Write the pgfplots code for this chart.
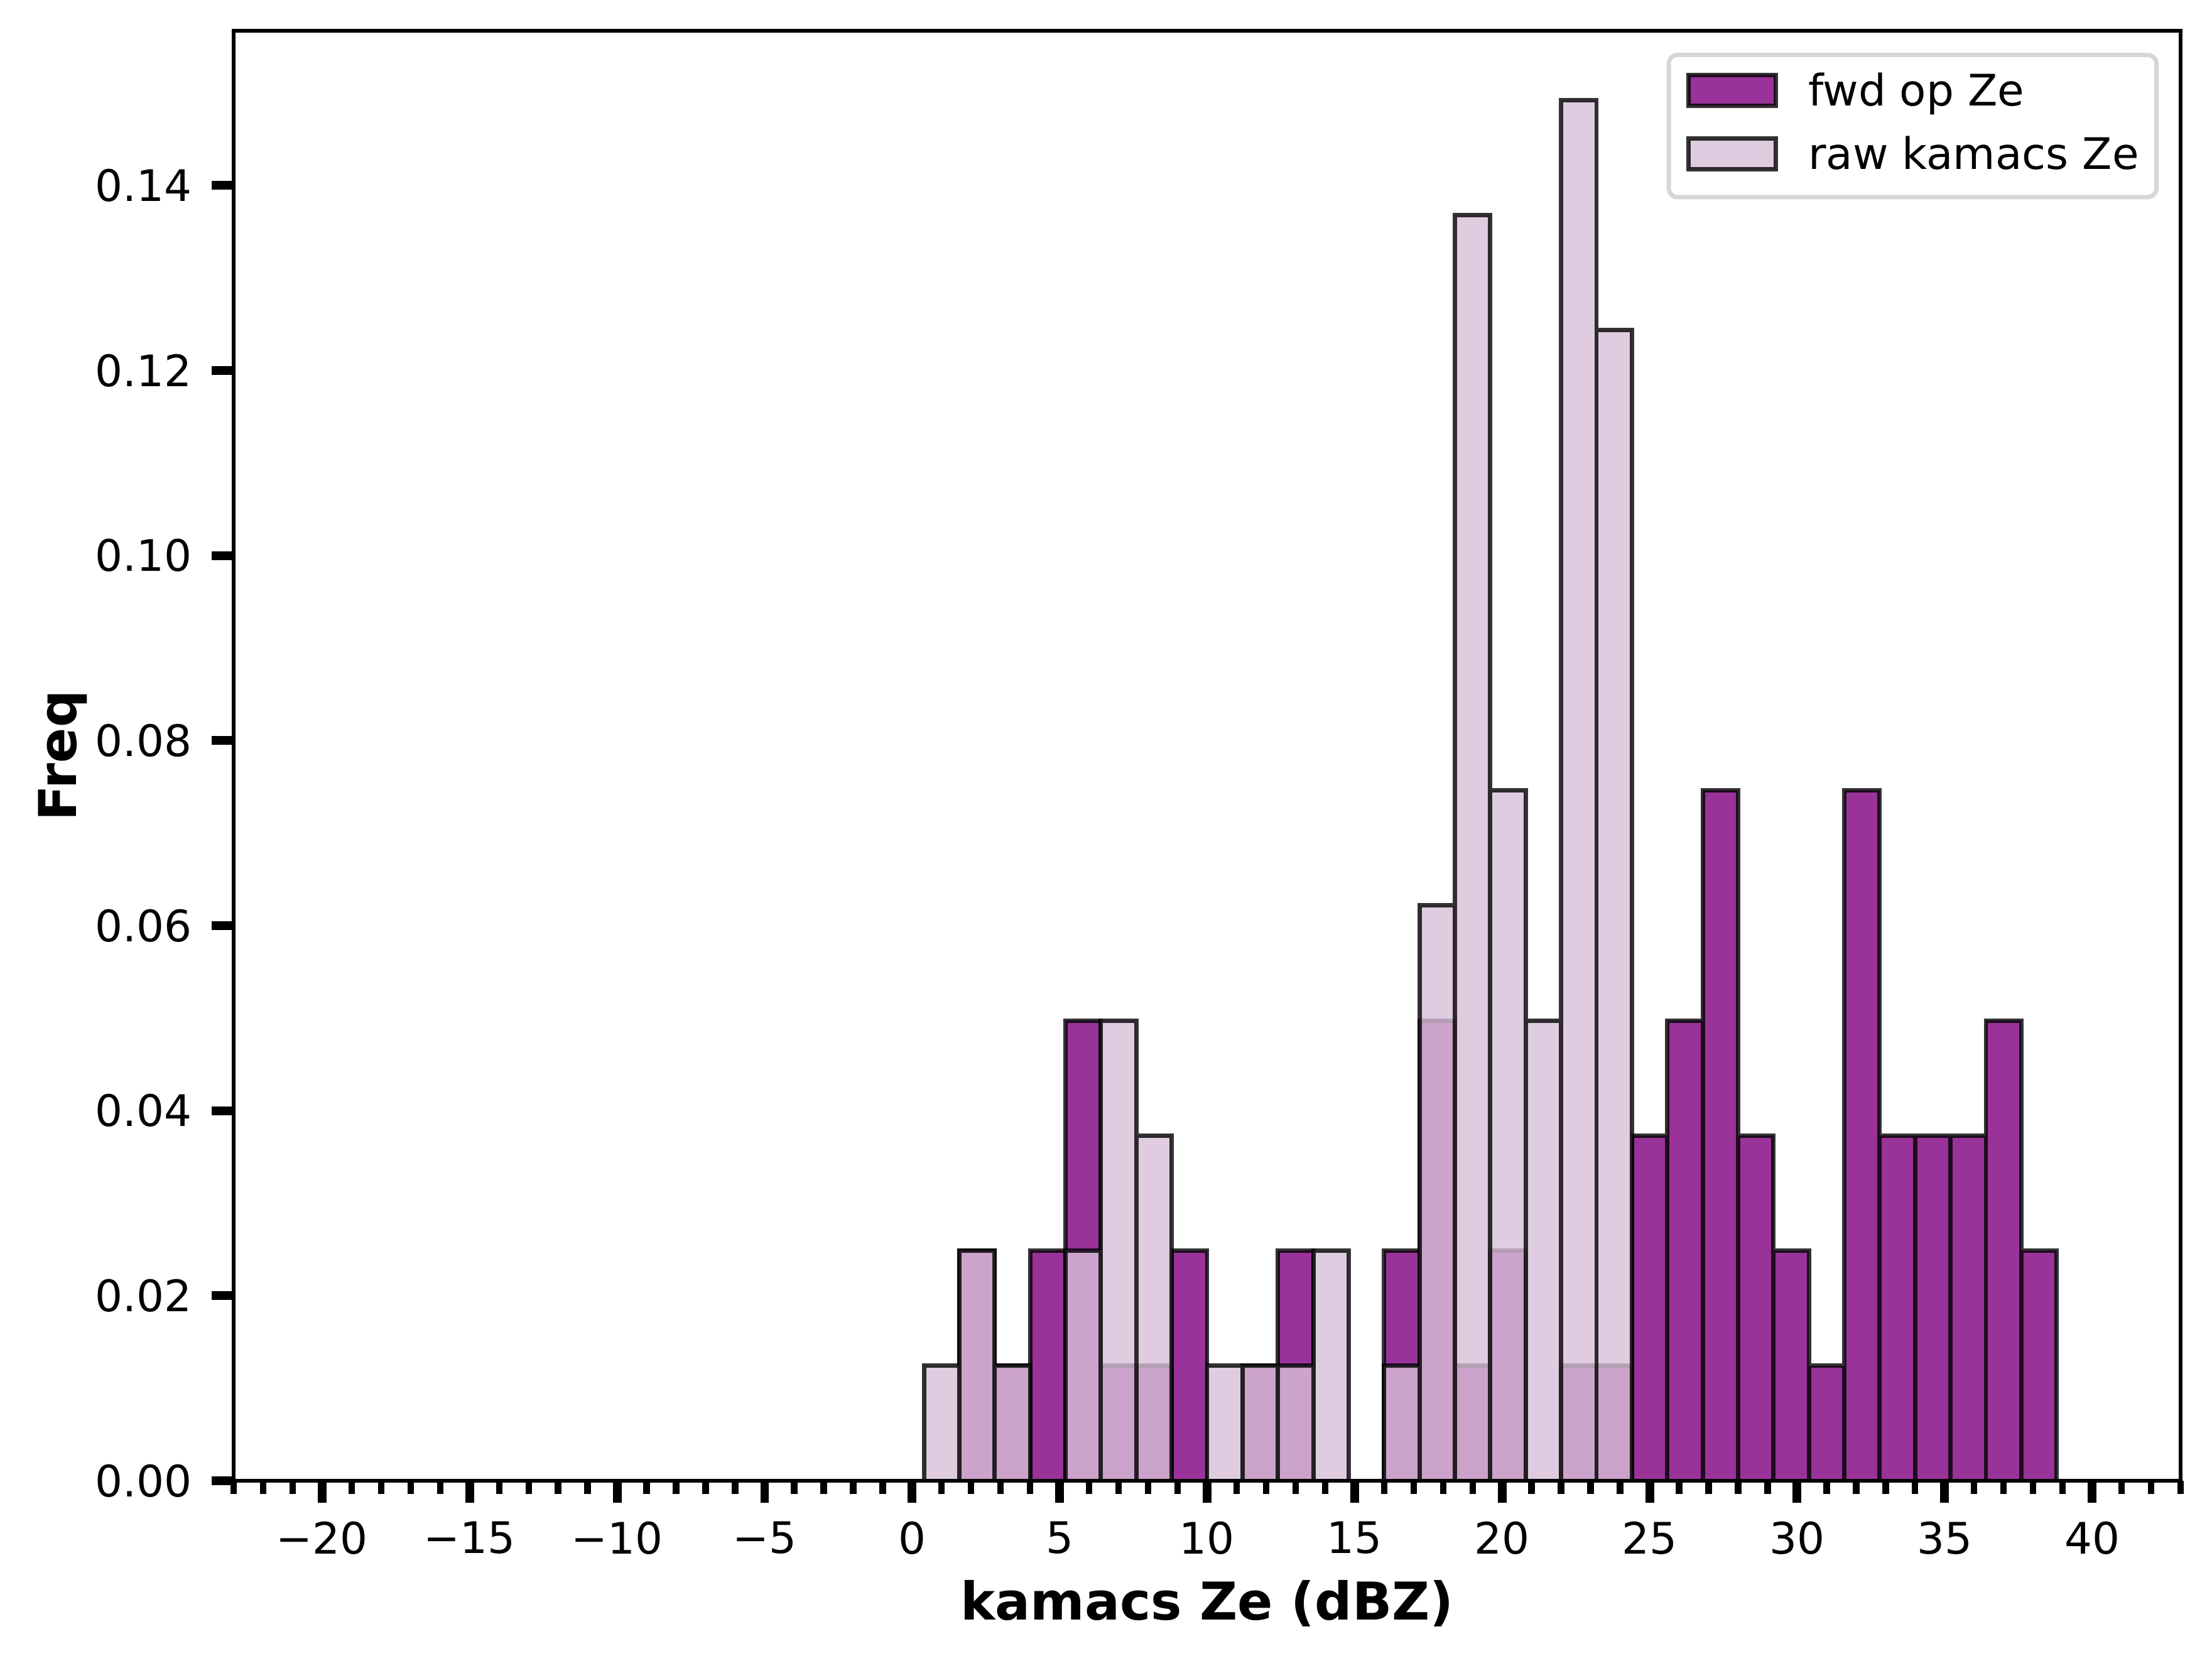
\documentclass[border=0pt]{standalone}
\usepackage{fontspec}
\setmainfont{DejaVu Sans}
\usepackage{pgfplots}
\pgfplotsset{compat=1.18}
\usepackage{pgfplotstable}
\definecolor{mplpurple}{RGB}{128,0,128}
\definecolor{mplthistle}{RGB}{216,191,216}
\definecolor{legedge}{RGB}{214,214,214}

% bin left edges (width 1.2), density values (count/(67*1.2))
\pgfplotstableread{
x    fwd     raw
0.4  0       0.01244
1.6  0.02488 0.02488
2.8  0.01244 0.01244
4.0  0.02488 0
5.2  0.04975 0.02488
6.4  0.01244 0.04975
7.6  0.01244 0.03731
8.8  0.02488 0
10.0 0       0.01244
11.2 0.01244 0.01244
12.4 0.02488 0.01244
13.6 0       0.02488
14.8 0       0
16.0 0.02488 0.01244
17.2 0.04975 0.06219
18.4 0.01244 0.13682
19.6 0.02488 0.07463
20.8 0       0.04975
22.0 0.01244 0.14925
23.2 0.01244 0.12438
24.4 0.03731 0
25.6 0.04975 0
26.8 0.07463 0
28.0 0.03731 0
29.2 0.02488 0
30.4 0.01244 0
31.6 0.07463 0
32.8 0.03731 0
34.0 0.03731 0
35.2 0.03731 0
36.4 0.04975 0
37.6 0.02488 0
38.8 0       0
}\histdata

\begin{document}
\begin{tikzpicture}
\begin{axis}[
  at={(0,0)}, anchor=south west,
  scale only axis,
  width=446.4bp, height=332.5bp,
  xmin=-23, xmax=43, ymin=0, ymax=0.15672,
  axis on top,
  axis line style={line width=0.8bp, black},
  tick align=outside,
  tick pos=left,
  major tick length=5bp,
  minor tick length=3bp,
  major tick style={line width=2bp, black},
  minor tick style={line width=1.5bp, black},
  xtick={-20,-15,-10,-5,0,5,10,15,20,25,30,35,40},
  xticklabels={{−20},{−15},{−10},{−5},{0},{5},{10},{15},{20},{25},{30},{35},{40}},
  minor xtick={-23,-22,...,43},
  ytick={0,0.02,0.04,0.06,0.08,0.10,0.12,0.14},
  yticklabels={0.00,0.02,0.04,0.06,0.08,0.10,0.12,0.14},
  ticklabel style={font=\fontsize{10}{12}\selectfont, inner sep=0pt},
  xticklabel style={anchor=north, yshift=-4.2bp},
  yticklabel style={anchor=east, xshift=-4.4bp},
  xlabel={\bfseries kamacs Ze (dBZ)},
  ylabel={\bfseries Freq},
  label style={font=\fontsize{12}{14}\selectfont},
  xlabel style={at={(axis description cs:0.5,-0.0957)}, anchor=base},
  ylabel style={at={(axis description cs:-0.08097,0.5)}, anchor=base},
  legend style={
    at={(axis description cs:0.98871,0.98484)}, anchor=north east,
    draw=legedge, line width=1bp, rounded corners=2bp,
    fill=white, fill opacity=0.8, draw opacity=1, text opacity=1,
    inner xsep=4bp, inner ysep=4bp, row sep=4.6bp,
    font=\fontsize{10}{12}\selectfont,
    cells={anchor=base west},
    nodes={inner sep=0pt, text height=7.6bp, text depth=2.4bp},
    /tikz/every odd column/.append style={column sep=7bp},
  },
]
\addplot[ybar interval, fill=mplpurple, fill opacity=0.8, draw=black, draw opacity=0.8, line width=1bp,
  legend image code/.code={\draw[sharp corners, fill=mplpurple, fill opacity=0.8, draw=black, draw opacity=0.8, line width=1bp] (0bp,0bp) rectangle (20bp,7bp);}]
  table[x=x, y=fwd] {\histdata};
\addlegendentry{fwd op Ze}
\addplot[ybar interval, fill=mplthistle, fill opacity=0.8, draw=black, draw opacity=0.8, line width=1bp,
  legend image code/.code={\draw[sharp corners, fill=mplthistle, fill opacity=0.8, draw=black, draw opacity=0.8, line width=1bp] (0bp,0bp) rectangle (20bp,7bp);}]
  table[x=x, y=raw] {\histdata};
\addlegendentry{raw kamacs Ze}
\end{axis}
\pgfresetboundingbox
\path[use as bounding box] (-53.57bp,-41.18bp) rectangle (453.6bp,339.56bp);
\end{tikzpicture}
\end{document}
